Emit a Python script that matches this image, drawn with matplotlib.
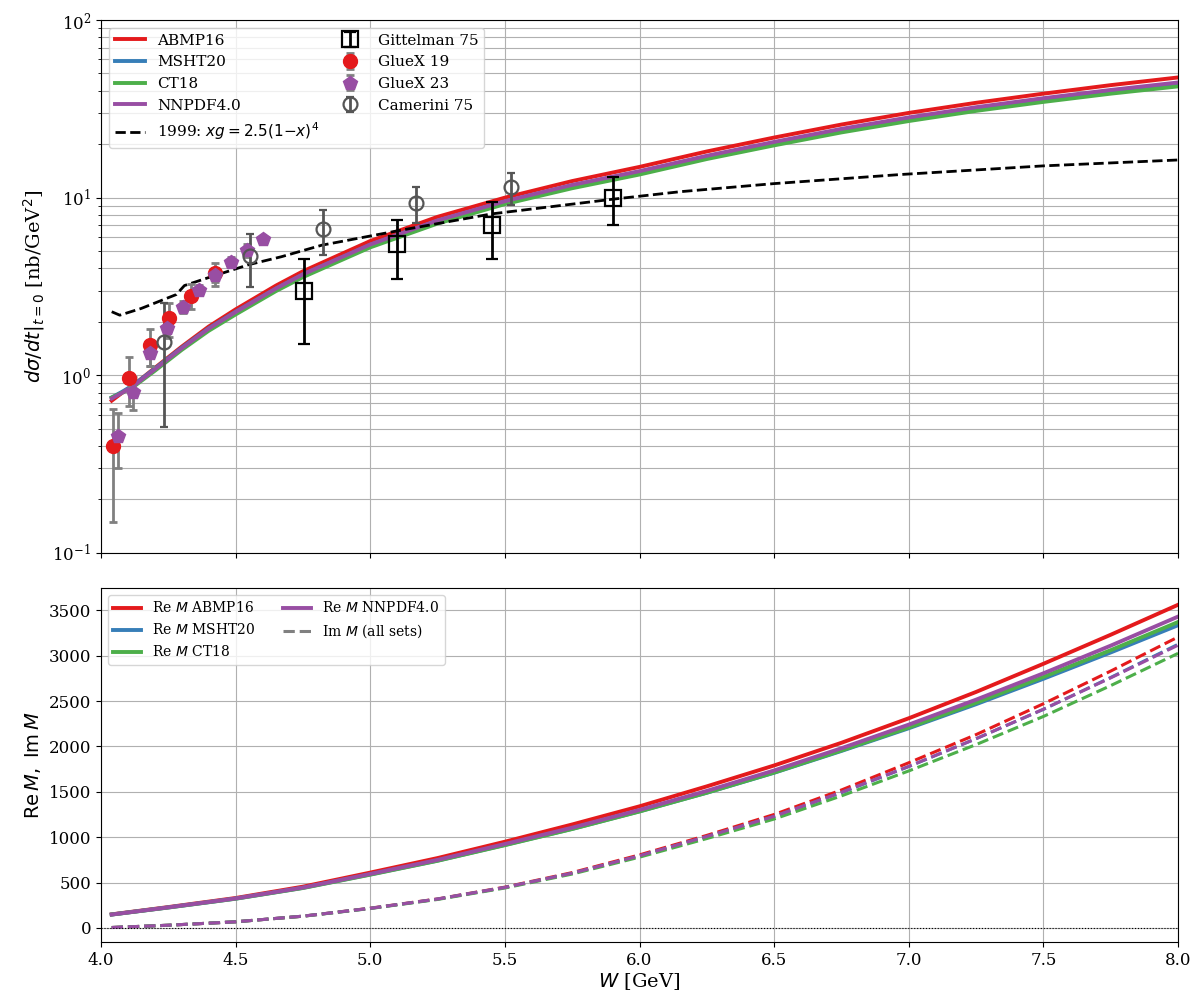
import matplotlib
matplotlib.use("Agg")
import matplotlib.pyplot as plt

plt.rcParams["font.family"] = "serif"
plt.rcParams["mathtext.fontset"] = "dejavusans"

# colours of the PDF sets
cAB = "#e41a1c"
cMS = "#377eb8"
cCT = "#4daf4a"
cNN = "#984ea3"

# ---- top panel: dsigma/dt at t=0 ----
W_th = [4.04, 4.08, 4.12, 4.2, 4.3, 4.4, 4.5, 4.65, 4.75, 5.0, 5.25, 5.5, 5.75, 6.0, 6.25, 6.5, 6.75, 7.0, 7.25, 7.5, 7.75, 8.0]
xs_abmp = [0.72, 0.80, 0.88, 1.10, 1.45, 1.88, 2.35, 3.2, 3.85, 5.7, 7.8, 10.0, 12.4, 14.9, 18.2, 21.8, 25.8, 30.0, 34.2, 38.5, 43.0, 47.5]
xs_msht = [0.75, 0.81, 0.88, 1.09, 1.43, 1.84, 2.28, 3.08, 3.7, 5.43, 7.4, 9.5, 11.7, 14.0, 17.1, 20.4, 24.1, 28.0, 31.9, 35.9, 40.0, 44.0]
xs_ct18 = [0.75, 0.80, 0.86, 1.06, 1.39, 1.78, 2.2, 2.98, 3.57, 5.25, 7.15, 9.2, 11.3, 13.5, 16.5, 19.7, 23.3, 27.0, 30.8, 34.6, 38.5, 42.3]
xs_nnpdf = [0.74, 0.80, 0.87, 1.08, 1.42, 1.83, 2.27, 3.08, 3.7, 5.45, 7.45, 9.55, 11.8, 14.1, 17.2, 20.6, 24.4, 28.3, 32.3, 36.3, 40.4, 44.5]

W_99 = [4.04, 4.07, 4.15, 4.28, 4.31, 4.4, 4.55, 4.67, 4.82, 5.1, 5.45, 5.9, 6.15, 6.5, 6.97, 7.5, 8.0]
xs_99 = [2.28, 2.18, 2.38, 2.85, 3.2, 3.55, 4.2, 4.65, 5.4, 6.5, 8.1, 9.8, 10.8, 12.0, 13.5, 15.1, 16.3]

W_git = [4.754, 5.10, 5.452, 5.903]
xs_git = [3.0, 5.5, 7.0, 10.0]
err_git = [1.5, 2.0, 2.5, 3.0]

W_gx19 = [4.043, 4.104, 4.182, 4.253, 4.333, 4.423]
xs_gx19 = [0.40, 0.97, 1.48, 2.10, 2.81, 3.75]
err_gx19 = [0.25, 0.30, 0.35, 0.45, 0.45, 0.55]

W_gx23 = [4.064, 4.12, 4.182, 4.244, 4.303, 4.364, 4.423, 4.483, 4.542, 4.603]
xs_gx23 = [0.455, 0.81, 1.33, 1.84, 2.43, 3.02, 3.67, 4.36, 5.07, 5.82]
err_gx23 = [0.155, 0.17, 0.2, 0.22, 0.2, 0.2, 0.3, 0.3, 0.45, 0.25]

W_cam = [4.235, 4.553, 4.823, 5.171, 5.523]
xs_cam = [1.53, 4.69, 6.63, 9.36, 11.43]
err_cam = [1.02, 1.56, 1.85, 2.15, 2.35]

# ---- bottom panel: Re M and Im M ----
W_m = [4.04, 4.25, 4.5, 4.75, 5.0, 5.25, 5.5, 5.75, 6.0, 6.25, 6.5, 6.75, 7.0, 7.25, 7.5, 7.75, 8.0]
re_abmp = [150, 230, 330, 455, 610, 770, 950, 1140, 1340, 1560, 1790, 2040, 2310, 2600, 2910, 3230, 3560]
re_msht = [148, 226, 323, 442, 590, 742, 915, 1092, 1285, 1490, 1710, 1950, 2200, 2465, 2745, 3035, 3335]
re_ct18 = [148, 225, 322, 440, 587, 740, 912, 1090, 1283, 1490, 1712, 1955, 2208, 2480, 2765, 3060, 3370]
re_nnpdf = [148, 227, 325, 445, 595, 750, 925, 1105, 1300, 1510, 1735, 1980, 2240, 2515, 2805, 3110, 3430]
im_abmp = [5, 30, 68, 130, 218, 320, 450, 610, 805, 1020, 1250, 1520, 1820, 2130, 2470, 2830, 3205]
im_msht = [5, 30, 68, 130, 216, 318, 446, 602, 793, 1005, 1228, 1490, 1778, 2085, 2408, 2760, 3125]
im_ct18 = [5, 30, 68, 129, 214, 314, 440, 594, 780, 985, 1200, 1455, 1730, 2020, 2330, 2670, 3025]
im_nnpdf = [5, 30, 68, 130, 216, 318, 446, 603, 795, 1008, 1230, 1495, 1780, 2085, 2410, 2755, 3115]

fig = plt.figure(figsize=(11.96, 10.01), dpi=100)
ax1 = fig.add_axes([0.0844, 0.4476, 0.9006, 0.5324])
ax2 = fig.add_axes([0.0844, 0.0589, 0.9006, 0.3537], sharex=ax1)

lw = 2.8
ax1.plot(W_th, xs_abmp, color=cAB, lw=lw, label="ABMP16")
ax1.plot(W_th, xs_msht, color=cMS, lw=lw, label="MSHT20")
ax1.plot(W_th, xs_ct18, color=cCT, lw=lw, label="CT18")
ax1.plot(W_th, xs_nnpdf, color=cNN, lw=lw, label="NNPDF4.0")
ax1.plot(W_99, xs_99, "k--", lw=2, label=r"1999: $xg{=}2.5(1{-}x)^4$")

ax1.errorbar(W_git, xs_git, yerr=err_git, fmt="s", mfc="none", mec="k", mew=1.6,
             ms=12, ecolor="k", elinewidth=2, capsize=4, capthick=2, label="Gittelman 75", zorder=5)
ax1.errorbar(W_gx19, xs_gx19, yerr=err_gx19, fmt="o", color=cAB, ms=10,
             ecolor="gray", elinewidth=2, capsize=3, capthick=2, label="GlueX 19", zorder=4)
ax1.errorbar(W_gx23, xs_gx23, yerr=err_gx23, fmt="p", color=cNN, ms=10,
             ecolor="gray", elinewidth=2, capsize=3, capthick=2, label="GlueX 23", zorder=4)
ax1.errorbar(W_cam, xs_cam, yerr=err_cam, fmt="o", mfc="none", mec="#555555", mew=1.6,
             ms=10, ecolor="#555555", elinewidth=2, capsize=3, capthick=2, label="Camerini 75", zorder=4)

ax1.set_yscale("log")
ax1.set_ylim(0.1, 100)
ax1.set_xlim(4.0, 8.0)
ax1.grid(True, which="major", color="#b0b0b0", lw=0.8)
ax1.grid(True, which="minor", axis="y", color="#b0b0b0", lw=0.8)
ax1.tick_params(labelbottom=False, labelsize=12)
ax1.set_ylabel(r"$d\sigma/dt|_{t=0}$ [nb/GeV$^2$]", fontsize=14)
ax1.legend(loc="upper left", ncol=2, fontsize=11, columnspacing=1.0)

ax2.plot(W_m, re_abmp, color=cAB, lw=lw, label=r"Re $M$ ABMP16")
ax2.plot(W_m, re_msht, color=cMS, lw=lw, label=r"Re $M$ MSHT20")
ax2.plot(W_m, re_ct18, color=cCT, lw=lw, label=r"Re $M$ CT18")
ax2.plot(W_m, re_nnpdf, color=cNN, lw=lw, label=r"Re $M$ NNPDF4.0")
ax2.plot(W_m, im_abmp, color=cAB, lw=2.2, ls="--")
ax2.plot(W_m, im_msht, color=cMS, lw=2.2, ls="--")
ax2.plot(W_m, im_ct18, color=cCT, lw=2.2, ls="--")
ax2.plot(W_m, im_nnpdf, color=cNN, lw=2.2, ls="--")
ax2.plot([], [], color="gray", lw=2.2, ls="--", label=r"Im $M$ (all sets)")
ax2.axhline(0, color="k", lw=0.8, ls=":")

ax2.set_ylim(-155, 3745)
ax2.set_xticks([4.0, 4.5, 5.0, 5.5, 6.0, 6.5, 7.0, 7.5, 8.0])
ax2.grid(True, color="#b0b0b0", lw=0.8)
ax2.tick_params(labelsize=12)
ax2.set_xlabel(r"$W$ [GeV]", fontsize=14, labelpad=2)
ax2.set_ylabel(r"$\mathrm{Re}\,M,\ \mathrm{Im}\,M$", fontsize=14)
ax2.legend(loc="upper left", ncol=2, fontsize=10)

fig.savefig("out.png", dpi=100)
